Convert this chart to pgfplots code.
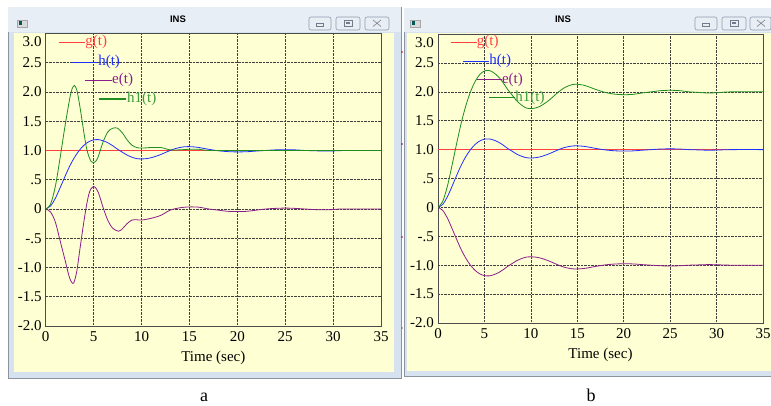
\documentclass[border=0pt]{standalone}
\usepackage{fontspec}
\setmainfont{Liberation Serif}
\newfontfamily\titlefont{Liberation Sans}
\usepackage{pgfplots}
\usepackage{pgfplotstable}
\pgfplotsset{compat=1.18}
\definecolor{plotyellow}{HTML}{FFFFD4}
\definecolor{winframe}{HTML}{D6E2F0}
\definecolor{winborder}{HTML}{8C939E}
\definecolor{titlebar}{HTML}{E8EEF6}
\definecolor{btnborder}{HTML}{8E9AAE}
\definecolor{btnfill}{HTML}{E9EEF5}
\definecolor{cg}{HTML}{FF4040}
\definecolor{ch}{HTML}{2030FF}
\definecolor{ce}{HTML}{8B1C8B}
\definecolor{chone}{HTML}{1E8C1E}
\definecolor{chonetxt}{HTML}{3C9C3C}

% h(t): same in both panels
\pgfplotstableread{
t h
0 0
0.5 0.05
1 0.18
1.5 0.36
2 0.55
2.5 0.73
3 0.88
3.5 1.0
4 1.09
4.5 1.15
5 1.18
5.5 1.185
6 1.165
6.5 1.13
7 1.08
7.5 1.02
8 0.97
8.5 0.92
9 0.885
9.5 0.86
10 0.855
10.5 0.86
11 0.875
11.5 0.90
12 0.93
12.5 0.965
13 1.0
13.5 1.03
14 1.05
14.5 1.063
15 1.065
15.5 1.06
16 1.05
17 1.02
18 0.995
19 0.98
20 0.975
21 0.978
22 0.99
23 1.0
24 1.01
25 1.013
26 1.01
27 1.0
28 0.995
29 0.99
30 0.992
31 0.998
32 1.0
35 1.0
}\tabH

\pgfplotstableread{
t h1
0 0
0.5 0.08
1 0.38
1.5 0.87
2 1.4
2.5 1.88
2.75 2.05
3 2.11
3.25 2.03
3.5 1.82
3.75 1.56
4 1.29
4.25 1.05
4.5 0.90
4.75 0.81
5 0.79
5.25 0.82
5.5 0.90
6 1.15
6.5 1.32
7 1.38
7.5 1.38
8 1.30
8.5 1.18
9 1.09
9.5 1.05
10 1.04
11 1.05
12 1.05
12.5 1.03
13 1.01
14 1.01
15 1.02
16 1.02
17 1.0
20 1.0
25 1.0
35 1.0
}\tabLhone

\pgfplotstableread{
t e
0 0
0.5 -0.05
1 -0.22
1.5 -0.54
2 -0.86
2.5 -1.18
2.9 -1.27
3.25 -1.06
3.5 -0.77
3.75 -0.48
4 -0.2
4.25 0.05
4.5 0.25
4.75 0.35
5.1 0.38
5.5 0.28
6 0.02
6.5 -0.2
7 -0.33
7.6 -0.38
8 -0.34
8.5 -0.25
9 -0.19
9.5 -0.185
10 -0.19
11 -0.16
12 -0.11
13 -0.02
14 0.02
15 0.035
16 0.03
17 0
18 -0.02
19 -0.04
20 -0.045
21 -0.04
22 -0.02
23 0
24 0.01
25 0.015
26 0.01
27 0
28 -0.01
29 -0.015
30 -0.01
31 0
35 0
}\tabLe

\pgfplotstableread{
t h1 e
0 0 0
0.5 0.10 -0.05
1 0.36 -0.18
1.5 0.72 -0.36
2 1.10 -0.55
2.5 1.46 -0.73
3 1.76 -0.88
3.5 2.0 -1.0
4 2.18 -1.09
4.5 2.30 -1.15
5 2.36 -1.18
5.5 2.37 -1.185
6 2.33 -1.165
6.5 2.26 -1.13
7 2.16 -1.08
7.5 2.04 -1.02
8 1.94 -0.97
8.5 1.84 -0.92
9 1.77 -0.885
9.5 1.72 -0.86
10 1.71 -0.855
10.5 1.72 -0.86
11 1.75 -0.875
11.5 1.80 -0.90
12 1.86 -0.93
12.5 1.93 -0.965
13 2.0 -1.0
13.5 2.06 -1.03
14 2.10 -1.05
14.5 2.126 -1.063
15 2.13 -1.065
15.5 2.12 -1.06
16 2.10 -1.05
17 2.04 -1.02
18 1.99 -0.995
19 1.96 -0.98
20 1.95 -0.975
21 1.956 -0.978
22 1.98 -0.99
23 2.0 -1.0
24 2.02 -1.01
25 2.026 -1.013
26 2.02 -1.01
27 2.0 -1.0
28 1.99 -0.995
29 1.98 -0.99
30 1.984 -0.992
31 1.996 -0.998
32 2.0 -1.0
35 2.0 -1.0
}\tabR

\pgfplotsset{
  inswin/.style={
    scale only axis, anchor=south west,
    xmin=0, xmax=35, ymin=-2, ymax=3,
    xtick={0,5,10,15,20,25,30,35},
    ytick={-2,-1.5,-1,-0.5,0,0.5,1,1.5,2,2.5},
    yticklabels={-2.0,-1.5,-1.0,-.5,0,.5,1.0,1.5,2.0,2.5},
    grid=major,
    major grid style={black!75, densely dotted, line width=0.6pt},
    major tick length=0pt, tick style={draw=none},
    axis line style={black!70, line width=1pt},
    axis background/.style={fill=plotyellow},
    ticklabel style={font=\fontsize{15}{16}\selectfont},
    yticklabel style={inner sep=0pt, xshift=-4pt},
    xticklabel style={inner sep=0pt, yshift=-5pt},
    /pgf/number format/assume math mode=true,
    xlabel={Time (sec)},
    xlabel style={at={(axis description cs:0.5,0)}, anchor=center, yshift=-31.5pt, inner sep=0pt, font=\fontsize{15}{16}\selectfont},
    every axis plot/.append style={line width=0.8pt},
  },
}
\tikzset{legtxt/.style={right, inner sep=0pt, font=\fontsize{15}{16}\selectfont}}

\newcommand{\winbutton}[2]{% x1 x2
  \filldraw[fill=btnfill, draw=btnborder, line width=0.6pt, rounded corners=2pt] (#1,375) rectangle (#2,388);
}

\begin{document}
\begin{tikzpicture}
\useasboundingbox (0pt,0pt) rectangle (771pt,405pt);
\begin{scope}[x=1pt,y=1pt]
\fill[white] (0,0) rectangle (771,405);

% ---------- left window ----------
\filldraw[fill=winframe, draw=winborder, line width=0.8pt] (8,27) rectangle (401,398);
\fill[titlebar] (8.4,373) rectangle (400.6,397.6);
\fill[plotyellow] (14,33) rectangle (394,372);
\filldraw[fill=gray!30, draw=gray!70, line width=0.4pt] (17,378) rectangle (27,385);
\fill[teal!70!black] (18.5,379.5) rectangle (22,383.5);
\node[font=\titlefont\bfseries\fontsize{9.5}{10}\selectfont] at (178,386) {INS};
\winbutton{309}{331}
\winbutton{336}{360}
\winbutton{365}{389}
\draw[btnborder!80!black, line width=0.6pt] (316.5,379) rectangle (323.5,381.5);
\draw[btnborder!80!black, line width=0.6pt] (344,378.5) rectangle (352,385);
\fill[btnborder!80!black] (346,380.5) rectangle (350,383);
\draw[btnborder!90!black, line width=0.7pt] (373,378.5) -- (381,385) (373,385) -- (381,378.5);

% ---------- right window ----------
\filldraw[fill=winframe, draw=winborder, line width=0.8pt] (404,29) rectangle (773,397);
\fill[titlebar] (404.4,373) rectangle (772,396.6);
\fill[plotyellow] (407,34) rectangle (772,372);
\filldraw[fill=gray!30, draw=gray!70, line width=0.4pt] (410,378) rectangle (420,385);
\fill[teal!70!black] (411.5,379.5) rectangle (415,383.5);
\node[font=\titlefont\bfseries\fontsize{9.5}{10}\selectfont] at (563,386) {INS};
\winbutton{695}{717}
\winbutton{722}{746}
\winbutton{750}{771}
\draw[btnborder!80!black, line width=0.6pt] (702.5,379) rectangle (709.5,381.5);
\draw[btnborder!80!black, line width=0.6pt] (730,378.5) rectangle (738,385);
\fill[btnborder!80!black] (732,380.5) rectangle (736,383);
\draw[btnborder!90!black, line width=0.7pt] (757,378.5) -- (765,385) (757,385) -- (765,378.5);

% small marks between the windows
\fill[red!75!black] (402,353) circle (0.9);
\fill[violet!80!black] (402,261) circle (0.9);
\fill[purple!80!black] (402,168) circle (0.9);
\fill[brown!70!black] (402,77) circle (0.9);

% 3.0 labels (set lower than the top grid edge, as in the original)
\node[anchor=east, inner sep=0pt, font=\fontsize{15}{16}\selectfont] at (41.7,363.4) {3.0};
\node[anchor=east, inner sep=0pt, font=\fontsize{15}{16}\selectfont] at (434,362) {3.0};

% panel labels
\node[font=\fontsize{18}{19}\selectfont, inner sep=0pt, anchor=base] at (204,4) {a};
\node[font=\fontsize{18}{19}\selectfont, inner sep=0pt, anchor=base] at (591,4) {b};
\end{scope}

% ---------- left axis ----------
\begin{axis}[inswin, at={(45.7pt,79pt)}, width=335.3pt, height=292.6pt]
\addplot[cg, no marks] coordinates {(0,1) (35,1)};
\addplot[ch, no marks, smooth] table[x=t, y=h] {\tabH};
\addplot[ce, no marks, smooth] table[x=t, y=e] {\tabLe};
\addplot[chone, no marks, smooth] table[x=t, y=h1] {\tabLhone};
% legend keys
\addplot[draw=cg, no marks] coordinates {(1.4,2.85) (4.1,2.85)} node[legtxt, text=cg] {g(t)};
\addplot[draw=ch, no marks] coordinates {(2.75,2.51) (5.45,2.51)} node[legtxt, text=ch] {h(t)};
\addplot[draw=ce, no marks] coordinates {(4.1,2.2) (6.9,2.2)} node[legtxt, text=ce] {e(t)};
\addplot[draw=chone, no marks, line width=2pt] coordinates {(5.55,1.88) (8.4,1.88)} node[legtxt, text=chonetxt] {h1(t)};
\end{axis}

% ---------- right axis ----------
\begin{axis}[inswin, at={(438pt,82pt)}, width=325pt, height=289pt]
\addplot[cg, no marks] coordinates {(0,1) (35,1)};
\addplot[ch, no marks, smooth] table[x=t, y=h] {\tabH};
\addplot[ce, no marks, smooth] table[x=t, y=e] {\tabR};
\addplot[chone, no marks, smooth] table[x=t, y=h1] {\tabR};
% legend keys
\addplot[draw=cg, no marks] coordinates {(1.37,2.86) (4.15,2.86)} node[legtxt, text=cg] {g(t)};
\addplot[draw=ch, no marks] coordinates {(2.7,2.53) (5.5,2.53)} node[legtxt, text=ch] {h(t)};
\addplot[draw=ce, no marks] coordinates {(4.15,2.21) (6.85,2.21)} node[legtxt, text=ce] {e(t)};
\addplot[draw=chone, no marks] coordinates {(5.5,1.9) (8.3,1.9)} node[legtxt, text=chonetxt] {h1(t)};
\end{axis}
\end{tikzpicture}
\end{document}
